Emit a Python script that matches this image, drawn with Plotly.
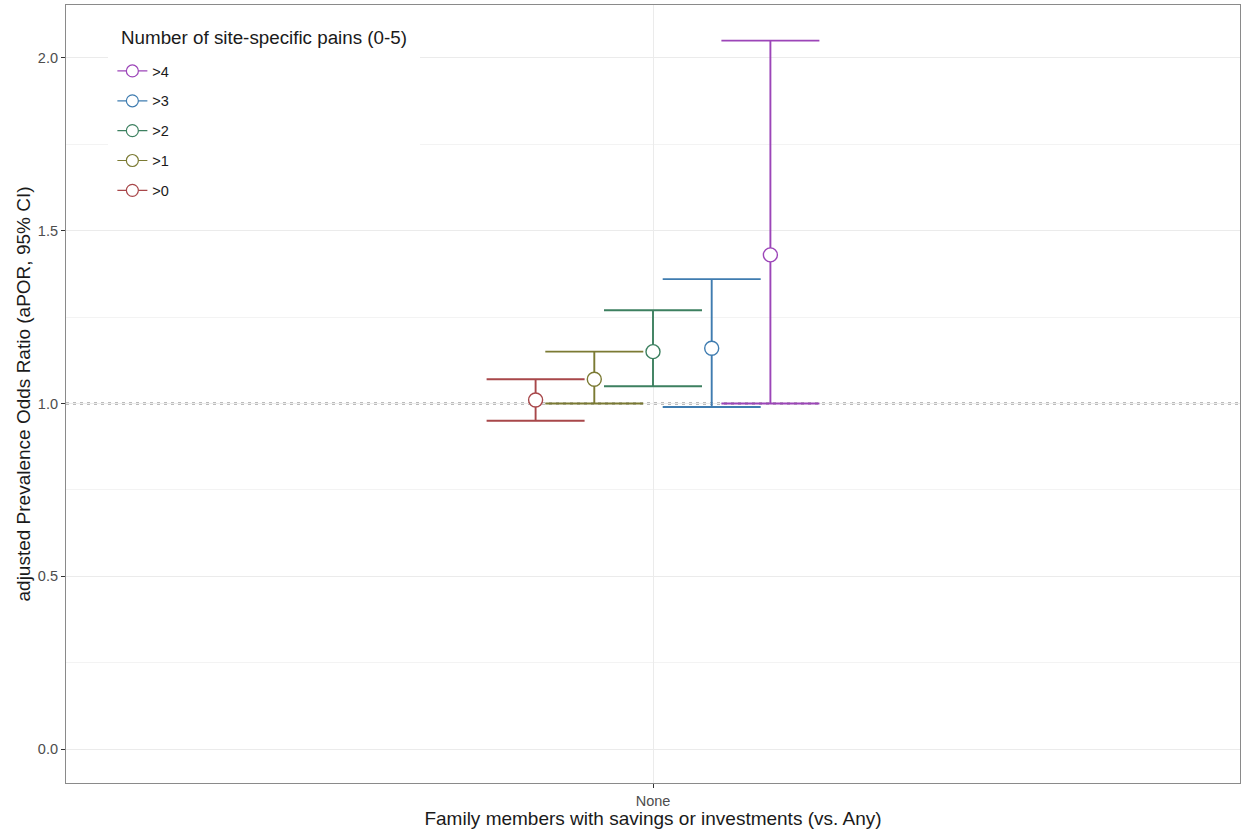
import plotly.graph_objects as go

categories = ["None"]
groups = [">0", ">1", ">2", ">3", ">4"]
estimates = [1.01, 1.07, 1.15, 1.16, 1.43]
lower = [0.95, 1.00, 1.05, 0.99, 1.00]
upper = [1.07, 1.15, 1.27, 1.36, 2.05]
colors = ["#A8474A", "#7B7A33", "#3D8060", "#3F7CB0", "#9C45B8"]
legend_title = "Number of site-specific pains (0-5)"

dodge_width = 0.3
n = len(groups)
step = dodge_width / n

fig = go.Figure()

# reference line at 1
fig.add_shape(type="line", xref="paper", x0=0, x1=1, yref="y", y0=1, y1=1,
              line=dict(color="#7A7A7A", width=2, dash="3px,4px"), layer="between")

for i, g in enumerate(groups):
    xpos = 1 + (i - (n - 1) / 2) * step
    fig.add_trace(go.Scatter(
        x=[xpos], y=[estimates[i]], name=g, showlegend=False,
        mode="markers",
        marker=dict(symbol="circle", size=14, color="white",
                    line=dict(color=colors[i], width=1.4)),
        error_y=dict(type="data", symmetric=False,
                     array=[upper[i] - estimates[i]],
                     arrayminus=[estimates[i] - lower[i]],
                     color=colors[i], thickness=1.9, width=49),
    ))

# legend keys (line + hollow circle), top to bottom >4 ... >0
for i in reversed(range(n)):
    g = groups[i]
    fig.add_trace(go.Scatter(
        x=[None], y=[None], name=g, legendgroup="k" + g, showlegend=True,
        mode="lines+markers",
        line=dict(color=colors[i], width=1.2),
        marker=dict(symbol="circle", size=12, color="white",
                    line=dict(color=colors[i], width=1.2)),
    ))

# white legend box
fig.add_shape(type="rect", xref="paper", yref="paper",
              x0=0.0358, x1=0.3015, y0=0.7365, y1=0.9807,
              fillcolor="white", line=dict(width=0), layer="above")
fig.add_annotation(xref="paper", yref="paper", x=0.045, y=0.9576,
                   xanchor="left", yanchor="middle", showarrow=False,
                   text=legend_title, font=dict(size=18.8, color="#1a1a1a"))

fig.update_layout(
    width=1241, height=834,
    margin=dict(l=66, r=1, t=5, b=51),
    paper_bgcolor="white", plot_bgcolor="white",
    font=dict(family="Liberation Sans, Arial, sans-serif", color="#222"),
    showlegend=True,
    legend=dict(
        traceorder="grouped",
        x=0.0395, y=0.9357, xanchor="left", yanchor="top",
        bgcolor="rgba(0,0,0,0)", borderwidth=0,
        font=dict(size=14.5, color="#1a1a1a"),
        tracegroupgap=8,
        itemwidth=30,
    ),
    xaxis=dict(
        range=[0.4, 1.6], tickmode="array", tickvals=[1], ticktext=categories,
        showgrid=True, gridcolor="#EBEBEB", gridwidth=1.2,
        zeroline=False, showline=True, linecolor="#8A8A8A", linewidth=1.2,
        mirror=True, ticks="outside", ticklen=4, tickcolor="#333",
        tickfont=dict(size=14.5, color="#4D4D4D"),
        title=dict(text="Family members with savings or investments (vs. Any)",
                   font=dict(size=19, color="#1a1a1a"), standoff=2),
    ),
    yaxis=dict(
        range=[-0.098, 2.153], tickmode="array",
        tickvals=[0, 0.5, 1.0, 1.5, 2.0], ticktext=["0.0", "0.5", "1.0", "1.5", "2.0"],
        showgrid=True, gridcolor="#EBEBEB", gridwidth=1.2,
        minor=dict(tickvals=[0.25, 0.75, 1.25, 1.75], showgrid=True,
                   gridcolor="#F3F3F3", gridwidth=0.8),
        zeroline=False, showline=True, linecolor="#8A8A8A", linewidth=1.2,
        mirror=True, ticks="outside", ticklen=4, tickcolor="#333",
        tickfont=dict(size=14.5, color="#4D4D4D"),
        title=dict(text="adjusted Prevalence Odds Ratio (aPOR, 95% CI)",
                   font=dict(size=19, color="#1a1a1a"), standoff=2),
    ),
)

fig.write_html("out.html")
